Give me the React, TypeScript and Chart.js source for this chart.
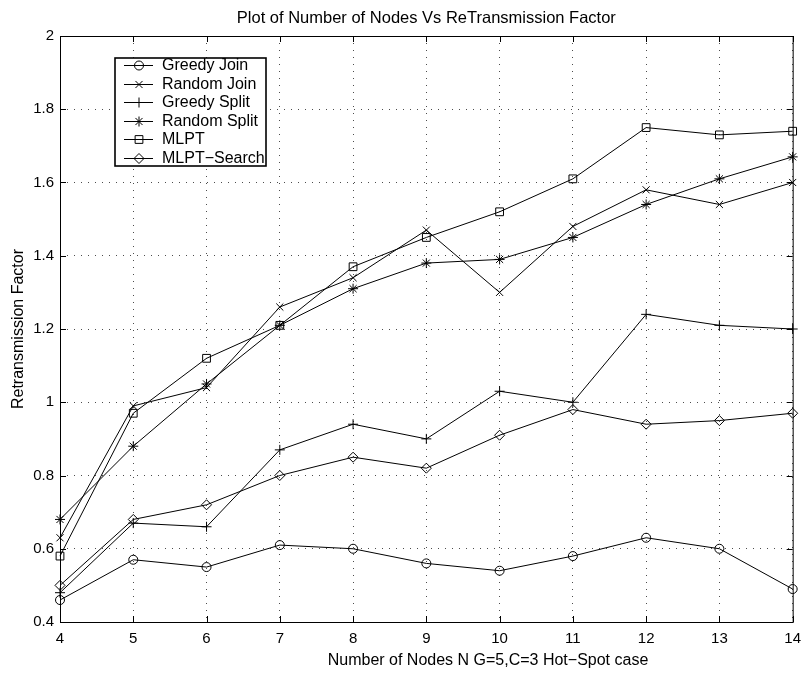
import React, { useEffect, useRef } from 'react';
import { Chart, registerables } from 'chart.js';
import { drawPoint } from 'chart.js/helpers';

Chart.register(...registerables);

// ---- data ----
const nodes = [4, 5, 6, 7, 8, 9, 10, 11, 12, 13, 14];
const greedyJoin = [0.46, 0.57, 0.55, 0.61, 0.60, 0.56, 0.54, 0.58, 0.63, 0.60, 0.49];
const randomJoin = [0.63, 0.99, 1.04, 1.26, 1.34, 1.47, 1.30, 1.48, 1.58, 1.54, 1.60];
const greedySplit = [0.48, 0.67, 0.66, 0.87, 0.94, 0.90, 1.03, 1.00, 1.24, 1.21, 1.20];
const randomSplit = [0.68, 0.88, 1.05, 1.21, 1.31, 1.38, 1.39, 1.45, 1.54, 1.61, 1.67];
const mlpt = [0.58, 0.97, 1.12, 1.21, 1.37, 1.45, 1.52, 1.61, 1.75, 1.73, 1.74];
const mlptSearch = [0.50, 0.68, 0.72, 0.80, 0.85, 0.82, 0.91, 0.98, 0.94, 0.95, 0.97];

const seriesLabels = ['Greedy Join', 'Random Join', 'Greedy Split', 'Random Split', 'MLPT', 'MLPT\u2212Search'];
const xTicks = [4, 5, 6, 7, 8, 9, 10, 11, 12, 13, 14];
const yTicks = [0.4, 0.6, 0.8, 1, 1.2, 1.4, 1.6, 1.8, 2];

const chartTitle = 'Plot of Number of Nodes Vs ReTransmission Factor';
const xTitle = 'Number of Nodes N G=5,C=3 Hot\u2212Spot case';
const yTitle = 'Retransmission Factor';

// ---- styles ----
const seriesData = [greedyJoin, randomJoin, greedySplit, randomSplit, mlpt, mlptSearch];
const markerStyles = ['circle', 'crossRot', 'cross', 'star', 'rect', 'rectRot'];
const markerRadii = [4.5, 5, 5, 5, 5.5, 5];
const FONT = '"Liberation Sans", Arial, Helvetica, sans-serif';

const decor = {
  id: 'decor',
  beforeDraw(chart: any) {
    const { ctx, width, height } = chart;
    ctx.save();
    ctx.fillStyle = '#fff';
    ctx.fillRect(0, 0, width, height);
    ctx.restore();
  },
  afterDraw(chart: any) {
    const { ctx, chartArea: a } = chart;
    const xs = chart.scales.x;
    const ys = chart.scales.y;
    ctx.save();
    ctx.strokeStyle = '#000';
    ctx.lineWidth = 1;
    // box
    ctx.strokeRect(a.left + 0.5, a.top + 0.5, a.right - a.left, a.bottom - a.top);
    // inner tick marks
    const tl = 6;
    ctx.beginPath();
    xTicks.forEach((v) => {
      const px = Math.round(xs.getPixelForValue(v)) + 0.5;
      ctx.moveTo(px, a.bottom);
      ctx.lineTo(px, a.bottom - tl);
      ctx.moveTo(px, a.top);
      ctx.lineTo(px, a.top + tl);
    });
    yTicks.forEach((v) => {
      const py = Math.round(ys.getPixelForValue(v)) + 0.5;
      ctx.moveTo(a.left, py);
      ctx.lineTo(a.left + tl, py);
      ctx.moveTo(a.right, py);
      ctx.lineTo(a.right - tl, py);
    });
    ctx.stroke();

    // legend
    const lx = a.left + 55;
    const ly = a.top + 22;
    const lw = 151;
    const lh = 108;
    ctx.fillStyle = '#fff';
    ctx.fillRect(lx, ly, lw, lh);
    const rowH = 18.5;
    ctx.font = `16px ${FONT}`;
    ctx.textBaseline = 'middle';
    ctx.textAlign = 'left';
    seriesLabels.forEach((lab, i) => {
      const cy = ly + 7 + i * rowH;
      ctx.strokeStyle = '#000';
      ctx.lineWidth = 1;
      ctx.beginPath();
      ctx.moveTo(lx + 9, Math.round(cy) + 0.5);
      ctx.lineTo(lx + 38, Math.round(cy) + 0.5);
      ctx.stroke();
      ctx.fillStyle = 'rgba(0,0,0,0)';
      drawPoint(ctx, { pointStyle: markerStyles[i], radius: markerRadii[i], rotation: 0, borderWidth: 1 } as any, lx + 24, Math.round(cy) + 0.5);
      ctx.fillStyle = '#000';
      ctx.fillText(lab, lx + 47, cy + 1);
    });
    ctx.strokeStyle = '#000';
    ctx.lineWidth = 1.6;
    ctx.strokeRect(lx, ly, lw, lh);

    // titles
    ctx.fillStyle = '#000';
    ctx.textAlign = 'center';
    ctx.textBaseline = 'alphabetic';
    ctx.font = `16.5px ${FONT}`;
    ctx.fillText(chartTitle, (a.left + a.right) / 2, 23);
    ctx.font = `16px ${FONT}`;
    ctx.fillText(xTitle, a.left + 428, 665);
    ctx.save();
    ctx.translate(19, (a.top + a.bottom) / 2);
    ctx.rotate(-Math.PI / 2);
    ctx.textBaseline = 'middle';
    ctx.fillText(yTitle, 0, 0);
    ctx.restore();
    ctx.restore();
  },
};

export default function App() {
  const ref = useRef<HTMLCanvasElement | null>(null);
  useEffect(() => {
    if (!ref.current) return;
    const datasets = seriesData.map((vals, i) => ({
      label: seriesLabels[i],
      data: nodes.map((n, j) => ({ x: n, y: vals[j] })),
      borderColor: '#000',
      borderWidth: 1,
      backgroundColor: 'transparent',
      pointStyle: markerStyles[i] as any,
      pointRadius: markerRadii[i],
      pointBorderColor: '#000',
      pointBackgroundColor: 'transparent',
      pointBorderWidth: 1,
      pointHoverRadius: markerRadii[i],
      fill: false,
      tension: 0,
      clip: false as any,
    }));
    const chart = new Chart(ref.current, {
      type: 'line',
      data: { datasets },
      plugins: [decor],
      options: {
        animation: false,
        responsive: false,
        devicePixelRatio: 1,
        events: [],
        layout: { padding: { left: 0, right: 11, top: 36, bottom: 0 } },
        plugins: {
          legend: { display: false },
          title: { display: false },
          tooltip: { enabled: false },
        },
        scales: {
          x: {
            type: 'linear',
            min: 4,
            max: 14,
            afterBuildTicks: (s: any) => {
              s.ticks = xTicks.map((v) => ({ value: v }));
            },
            afterFit: (s: any) => {
              s.height = 53;
            },
            ticks: {
              color: '#000',
              font: { family: FONT, size: 15 },
              padding: 8,
              maxRotation: 0,
              autoSkip: false,
              callback: (v: any) => String(v),
            },
            grid: {
              color: 'rgba(0,0,0,0.7)',
              lineWidth: 1,
              drawTicks: false,
            },
            border: { display: false, dash: [1, 6] },
          },
          y: {
            type: 'linear',
            min: 0.4,
            max: 2,
            afterBuildTicks: (s: any) => {
              s.ticks = yTicks.map((v) => ({ value: v }));
            },
            afterFit: (s: any) => {
              s.width = 60;
            },
            ticks: {
              color: '#000',
              font: { family: FONT, size: 15 },
              padding: 6,
              autoSkip: false,
              callback: (v: any) => String(Math.round(Number(v) * 10) / 10),
            },
            grid: {
              color: 'rgba(0,0,0,0.7)',
              lineWidth: 1,
              drawTicks: false,
            },
            border: { display: false, dash: [1, 6] },
          },
        },
      },
    });
    return () => chart.destroy();
  }, []);
  return (
    <div style={{ position: 'absolute', left: 0, top: 0, width: 809, height: 675, background: '#fff' }}>
      <canvas ref={ref} width={809} height={675} style={{ display: 'block' }} />
    </div>
  );
}
